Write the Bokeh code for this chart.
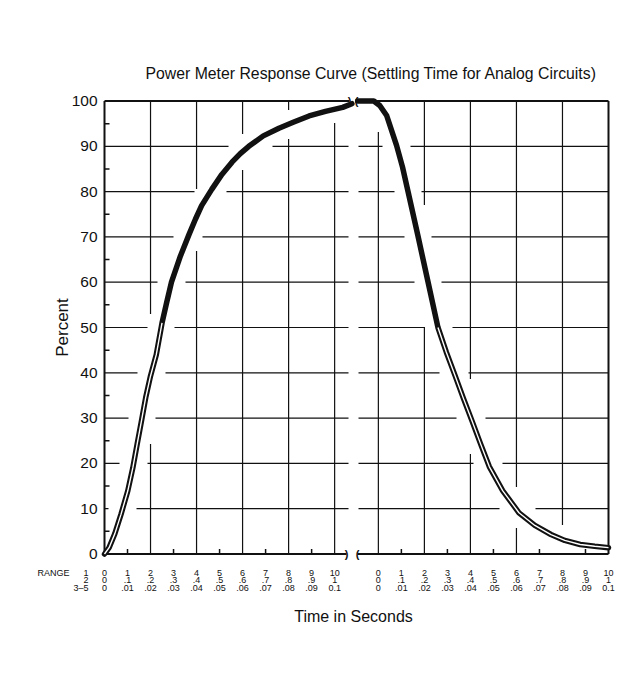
import math
import numpy as np
from bokeh.plotting import figure
from bokeh.models import Range1d
from bokeh.core.properties import value
from bokeh.embed import file_html
from bokeh.resources import INLINE

# ---------------- data ----------------
# left panel: meter reading rising (time in range units 0..10)
rise_x = [0, 0.2, 0.45, 0.72, 1.01, 1.23, 1.42, 1.6, 1.79, 2.0, 2.25, 2.5, 2.7, 2.91, 3.3,
          3.67, 3.95, 4.22, 4.66, 5.1, 5.54, 5.9, 6.27, 6.9, 7.58, 8.2, 8.89, 9.6, 10.35, 10.75]
rise_y = [0, 1.4, 4.5, 8.8, 13.9, 19.0, 24.3, 29.2, 34.5, 39.3, 44.0, 51.0, 55.5, 60.0, 65.8,
          70.5, 73.9, 76.9, 80.5, 83.8, 86.5, 88.4, 90.0, 92.3, 94.0, 95.3, 96.7, 97.7, 98.6, 99.4]
# right panel: meter reading falling
fall_x = [-0.9, -0.2, 0.06, 0.36, 0.79, 1.05, 1.29, 1.73, 2.16, 2.59, 2.95, 3.31, 3.7, 4.06,
          4.45, 4.82, 5.4, 6.11, 6.8, 7.5, 8.1, 8.77, 9.4, 10.0]
fall_y = [100, 100, 99, 96.8, 90.2, 85.4, 80, 70, 60, 50, 44.6, 39.7, 34.3, 29.5,
          24.2, 19.3, 14, 9.1, 6.3, 4.3, 3.0, 2.1, 1.7, 1.4]

tick_vals = list(range(0, 11))
row1_labels = ["0", "1", "2", "3", "4", "5", "6", "7", "8", "9", "10"]
row2_labels = ["0", ".1", ".2", ".3", ".4", ".5", ".6", ".7", ".8", ".9", "1"]
row3_labels = ["0", ".01", ".02", ".03", ".04", ".05", ".06", ".07", ".08", ".09", "0.1"]
range_names = ["1", "2", "3\u20135"]
y_ticks = list(range(0, 101, 10))
y_minor = list(range(5, 100, 10))
x_minor = [1, 3, 5, 7, 9]
grid_x = [2, 4, 6, 8]

TITLE = "Power Meter Response Curve (Settling Time for Analog Circuits)"
XLABEL = "Time in Seconds"
YLABEL = "Percent"

# ---------------- layout (pixels) ----------------
W, H = 628, 668
X0, X_END = 104.0, 608.0      # pixel of left x=0 and right x=10
Y0, Y100 = 553.5, 100.5       # pixel of 0 % and 100 %
OFFSET = 11.9                 # horizontal shift of the right-hand panel (data units)
SPAN = OFFSET + 10
K = (X_END - X0) / SPAN
KY = (Y0 - Y100) / 100.0
BREAK_L, BREAK_R = 348.0, 358.0   # pixel gap of the axis break
CLEAR = 13.0                      # grid lines stop this far (px) from the curve
FONT = "Liberation Sans"
INK = "#111111"


def ux(px):
    return (px - X0) / K


def vy(py):
    return (Y0 - py) / KY


p = figure(width=W, height=H, x_range=Range1d(ux(0), ux(W)), y_range=Range1d(vy(H), vy(0)),
           output_backend="svg", toolbar_location=None, x_axis_location=None,
           y_axis_location=None, min_border=0)
p.min_border_left = p.min_border_right = p.min_border_top = p.min_border_bottom = 0
p.outline_line_color = None
p.background_fill_color = "white"
p.border_fill_color = "white"
p.grid.visible = False

fall_u = [v + OFFSET for v in fall_x]

# ---------------- grid, interrupted where the curve passes ----------------
def curve_px(xs, ys):
    return np.column_stack([X0 + K * np.asarray(xs, float), Y0 - KY * np.asarray(ys, float)])


curves = [curve_px(rise_x, rise_y), curve_px(fall_u, fall_y)]
seg_a = np.vstack([c[:-1] for c in curves])
seg_b = np.vstack([c[1:] for c in curves])


def dist_to_curves(pts):
    d = seg_b - seg_a
    dd = (d ** 2).sum(1)
    rel = pts[:, None, :] - seg_a[None, :, :]
    t = np.clip((rel * d[None]).sum(2) / dd[None], 0, 1)
    proj = seg_a[None] + t[..., None] * d[None]
    return np.sqrt(((pts[:, None, :] - proj) ** 2).sum(2)).min(1)


def runs(mask):
    out, start = [], None
    for i, m in enumerate(mask):
        if m and start is None:
            start = i
        if not m and start is not None:
            out.append((start, i - 1))
            start = None
    if start is not None:
        out.append((start, len(mask) - 1))
    return [r for r in out if r[1] - r[0] >= 2]


gx0, gy0, gx1, gy1 = [], [], [], []
sx = np.arange(X0, X_END + 0.5, 1.0)
for h in y_ticks[1:-1]:
    py = Y0 - KY * h
    pts = np.column_stack([sx, np.full_like(sx, py)])
    keep = (dist_to_curves(pts) >= CLEAR) & ~((sx > BREAK_L) & (sx < BREAK_R))
    for a, b in runs(keep):
        gx0.append(ux(sx[a])); gx1.append(ux(sx[b])); gy0.append(h); gy1.append(h)

sy = np.arange(Y100, Y0 + 0.5, 1.0)
for v in grid_x + [10] + [OFFSET] + [g + OFFSET for g in grid_x]:
    px = X0 + K * v
    pts = np.column_stack([np.full_like(sy, px), sy])
    keep = dist_to_curves(pts) >= CLEAR
    for a, b in runs(keep):
        gx0.append(v); gx1.append(v); gy0.append(vy(sy[a])); gy1.append(vy(sy[b]))

p.segment(x0=gx0, y0=gy0, x1=gx1, y1=gy1, line_color=INK, line_width=1.2)

# ---------------- frame with break ----------------
p.segment(x0=[0, SPAN], y0=[0, 0], x1=[0, SPAN], y1=[100, 100], line_color=INK, line_width=2)
p.segment(x0=[0, ux(357)], y0=[100, 100], x1=[ux(349), SPAN], y1=[100, 100],
          line_color=INK, line_width=2)
p.segment(x0=[0, ux(357)], y0=[0, 0], x1=[ux(346), SPAN], y1=[0, 0],
          line_color=INK, line_width=2)
p.text(x=[ux(349), ux(356), ux(346), ux(357)], y=[100, 100, 0, 0], text=[")", "(", ")", "("],
       text_align="center", text_baseline="middle", text_font=value(FONT),
       text_font_size=value("11px"), text_font_style="bold", text_color=INK)

# minor ticks (inside)
mx = x_minor + [v + OFFSET for v in x_minor]
p.segment(x0=mx, y0=[0] * len(mx), x1=mx, y1=[5 / KY] * len(mx), line_color=INK, line_width=1.5)
p.segment(x0=[0] * len(y_minor), y0=y_minor, x1=[5 / K] * len(y_minor), y1=y_minor,
          line_color=INK, line_width=1.5)

# ---------------- curves ----------------
p.line(rise_x, rise_y, line_color=INK, line_width=5.5, line_join="round", line_cap="round")
p.line(fall_u, fall_y, line_color=INK, line_width=5.5, line_join="round", line_cap="round")
n_r = 12
p.line(rise_x[:n_r], rise_y[:n_r], line_color="white", line_width=1.4, line_join="round")
n_f = 9
p.line(fall_u[n_f:], fall_y[n_f:], line_color="white", line_width=1.4, line_join="round")

# ---------------- y tick labels and axis title ----------------
p.text(x=[ux(97)] * len(y_ticks), y=y_ticks, text=[str(v) for v in y_ticks],
       text_align="right", text_baseline="middle", text_font=value(FONT),
       text_font_size=value("15.5px"), text_color=INK)
p.text(x=[ux(62)], y=[vy(327)], text=[YLABEL], angle=math.pi / 2,
       text_align="center", text_baseline="middle", text_font=value(FONT),
       text_font_size=value("17px"), text_color=INK)

# ---------------- x label rows ----------------
rows_py = [572, 579.5, 587]
lx, ly, lt = [], [], []
for py, labels in zip(rows_py, (row1_labels, row2_labels, row3_labels)):
    for t, s in zip(tick_vals, labels):
        for off in (0, OFFSET):
            lx.append(t + off)
            ly.append(vy(py))
            lt.append(s)
p.text(x=lx, y=ly, text=lt, text_align="center", text_baseline="middle",
       text_font=value(FONT), text_font_size=value("9px"), text_color=INK)
p.text(x=[ux(37)], y=[vy(rows_py[0])], text=["RANGE"], text_align="left",
       text_baseline="middle", text_font=value(FONT), text_font_size=value("9px"),
       text_color=INK)
p.text(x=[ux(88)] * 3, y=[vy(v) for v in rows_py], text=range_names, text_align="right",
       text_baseline="middle", text_font=value(FONT), text_font_size=value("9px"),
       text_color=INK)

# ---------------- titles ----------------
p.text(x=[ux(145)], y=[vy(73)], text=[TITLE], text_align="left", text_baseline="middle",
       text_font=value(FONT), text_font_size=value("15.8px"), text_color=INK)
p.text(x=[ux(353)], y=[vy(616)], text=[XLABEL], text_align="center", text_baseline="middle",
       text_font=value(FONT), text_font_size=value("16px"), text_color=INK)

open("out.html", "w").write(file_html(p, INLINE))
